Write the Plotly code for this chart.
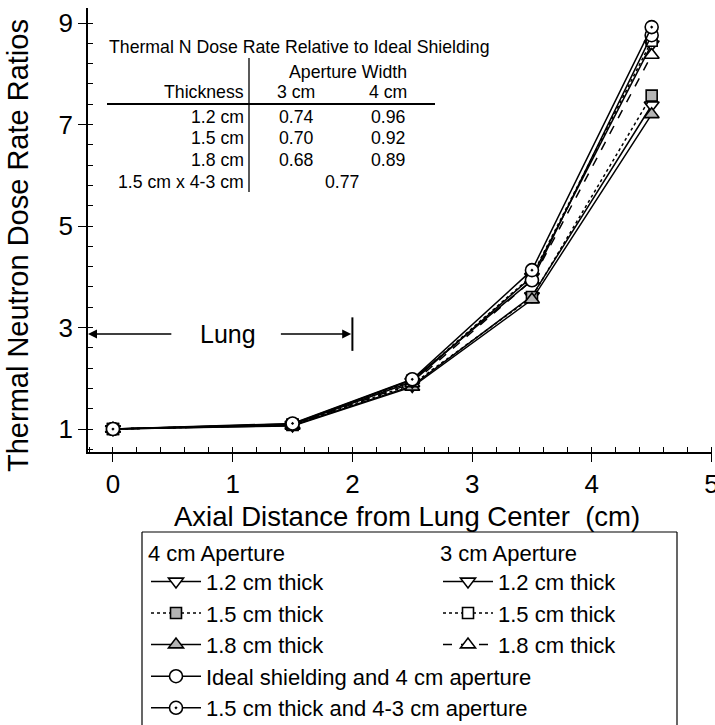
import plotly.graph_objects as go

# Axial positions (cm from lung center)
distance_cm = [0, 1.5, 2.5, 3.5, 4.5]

# Thermal neutron dose rate ratios (normalised to lung center)
ap4_t12 = [1.0, 1.07, 1.85, 3.62, 7.38]
ap4_t15 = [1.0, 1.08, 1.88, 3.60, 7.57]
ap4_t18 = [1.0, 1.06, 1.83, 3.55, 7.20]
ap3_t12 = [1.0, 1.09, 1.93, 4.00, 8.58]
ap3_t15 = [1.0, 1.09, 1.95, 4.02, 8.65]
ap3_t18 = [1.0, 1.08, 1.90, 3.93, 8.37]
ideal_ap4 = [1.0, 1.10, 1.97, 3.93, 8.76]
t15_ap43 = [1.0, 1.11, 1.98, 4.13, 8.92]

# Inset table: dose rate relative to ideal shielding
table_title = "Thermal N Dose Rate Relative to Ideal Shielding"
table_thickness = ["1.2 cm", "1.5 cm", "1.8 cm"]
table_ap3 = ["0.74", "0.70", "0.68"]
table_ap4 = ["0.96", "0.92", "0.89"]
table_combo_label = "1.5 cm x 4-3 cm"
table_combo_value = "0.77"

FONT = "Liberation Sans, Arial, sans-serif"
GRAY = "#b4b4b4"

# plot-area geometry in pixels (used to place inset text and boxes)
W, H = 715, 725
PL, PR, PT, PB = 88, 712, 8, 452
XR = [-0.2087, 5.004]
YR = [0.547, 9.296]


def px(xp):
    return (xp - PL) / (PR - PL)


def py(yp):
    return (PB - yp) / (PB - PT)


series = [
    # name, values, dash, symbol, fill, legend
    ("1.2 cm thick", ap4_t12, "solid", "triangle-down", "white", "legend"),
    ("1.5 cm thick", ap4_t15, "dot", "square", GRAY, "legend"),
    ("1.8 cm thick", ap4_t18, "solid", "triangle-up", GRAY, "legend"),
    ("1.2 cm thick", ap3_t12, "solid", "triangle-down", "white", "legend2"),
    ("1.5 cm thick", ap3_t15, "dot", "square", "white", "legend2"),
    ("1.8 cm thick", ap3_t18, "dash", "triangle-up", "white", "legend2"),
    ("Ideal shielding and 4 cm aperture", ideal_ap4, "solid", "circle", "white", "legend"),
    ("1.5 cm thick and 4-3 cm aperture", t15_ap43, "solid", "circle-dot", "white", "legend"),
]

fig = go.Figure()
for name, vals, dash, sym, fill, leg in series:
    size = 11 if sym == "square" else 13
    fig.add_trace(go.Scatter(
        x=distance_cm, y=vals, name=name, mode="lines+markers",
        line=dict(color="black", width=1.5, dash=dash),
        marker=dict(symbol=sym, size=size, color=fill,
                    line=dict(color="black", width=1.6)),
        legend=leg,
    ))

axis_common = dict(showgrid=False, zeroline=False, linecolor="black",
                   tickcolor="black", tickwidth=1.3, automargin=False)

LEG_FONT = 22
fig.update_layout(
    width=W, height=H,
    margin=dict(l=PL, r=W - PR, t=PT, b=H - PB, autoexpand=False),
    paper_bgcolor="white", plot_bgcolor="white",
    font=dict(family=FONT, color="black"),
    showlegend=True,
    xaxis=dict(range=XR, tickmode="linear", tick0=0, dtick=1,
               ticks="outside", ticklen=8, showline=True, linewidth=1.5,
               tickfont=dict(size=26), ticklabelstandoff=0,
               ticklabeloverflow="allow",
               minor=dict(ticks="inside", tick0=0, dtick=0.2, ticklen=5,
                          tickcolor="black", tickwidth=1.2),
               **axis_common),
    yaxis=dict(range=YR, tickmode="linear", tick0=1, dtick=2,
               ticks="outside", ticklen=8, showline=True, linewidth=1.5,
               tickfont=dict(size=26),
               minor=dict(ticks="inside", tick0=1, dtick=0.4, ticklen=5,
                          tickcolor="black", tickwidth=1.2),
               **axis_common),
    # mirrored frame with inward ticks (top / right)
    xaxis2=dict(range=XR, overlaying="x", anchor="y", side="top",
                tickmode="linear", tick0=0, dtick=1, ticks="inside", ticklen=6,
                showticklabels=False, showline=True, linewidth=1.5,
                minor=dict(ticks="inside", tick0=0, dtick=0.2, ticklen=5,
                           tickcolor="black", tickwidth=1.2),
                **axis_common),
    yaxis2=dict(range=YR, overlaying="y", anchor="x", side="right",
                tickmode="linear", tick0=1, dtick=2, ticks="inside", ticklen=6,
                showticklabels=False, showline=True, linewidth=1.5,
                minor=dict(ticks="inside", tick0=1, dtick=0.4, ticklen=5,
                           tickcolor="black", tickwidth=1.2),
                **axis_common),
    # inner half of the major ticks on bottom / left
    xaxis3=dict(range=XR, overlaying="x", anchor="y", side="bottom",
                tickmode="linear", tick0=0, dtick=1, ticks="inside", ticklen=7,
                showticklabels=False, showline=False, **axis_common),
    yaxis3=dict(range=YR, overlaying="y", anchor="x", side="left",
                tickmode="linear", tick0=1, dtick=2, ticks="inside", ticklen=7,
                showticklabels=False, showline=False, **axis_common),
    legend=dict(x=px(146), y=py(532), xanchor="left", yanchor="top",
                bgcolor="rgba(0,0,0,0)", font=dict(size=LEG_FONT), itemwidth=50,
                tracegroupgap=0,
                title=dict(text="4 cm Aperture", font=dict(size=LEG_FONT))),
    legend2=dict(x=px(438), y=py(532), xanchor="left", yanchor="top",
                 bgcolor="rgba(0,0,0,0)", font=dict(size=LEG_FONT), itemwidth=50,
                 tracegroupgap=0,
                 title=dict(text="3 cm Aperture", font=dict(size=LEG_FONT))),
)

shapes = []
annotations = []

# axis titles
annotations.append(dict(text="Axial Distance from Lung Center  (cm)",
                        x=px(407), y=py(516), xref="paper", yref="paper",
                        xanchor="center", yanchor="middle", showarrow=False,
                        font=dict(size=27.5)))
annotations.append(dict(text="Thermal Neutron Dose Rate Ratios",
                        x=px(18), y=py(246), xref="paper", yref="paper",
                        xanchor="center", yanchor="middle", showarrow=False,
                        textangle=-90, font=dict(size=29)))

# legend frame (open at the bottom edge of the page)
frame_line = dict(color="black", width=1.2)
shapes.append(dict(type="line", xref="paper", yref="paper",
                   x0=px(142), x1=px(677), y0=py(532), y1=py(532), line=frame_line))
shapes.append(dict(type="line", xref="paper", yref="paper",
                   x0=px(142), x1=px(142), y0=py(532), y1=py(725), line=frame_line))
shapes.append(dict(type="line", xref="paper", yref="paper",
                   x0=px(677), x1=px(677), y0=py(532), y1=py(725), line=frame_line))

# inset table
TF = 17.7
annotations.append(dict(text=table_title, x=px(107), y=py(47), xref="paper",
                        yref="paper", xanchor="left", yanchor="middle",
                        showarrow=False, font=dict(size=TF)))
annotations.append(dict(text="Aperture Width", x=px(348), y=py(72), xref="paper",
                        yref="paper", xanchor="center", yanchor="middle",
                        showarrow=False, font=dict(size=TF)))
annotations.append(dict(text="Thickness", x=px(246), y=py(92), xref="paper",
                        yref="paper", xanchor="right", yanchor="middle",
                        showarrow=False, font=dict(size=TF)))
annotations.append(dict(text="3 cm", x=px(296), y=py(92), xref="paper",
                        yref="paper", xanchor="center", yanchor="middle",
                        showarrow=False, font=dict(size=TF)))
annotations.append(dict(text="4 cm", x=px(388), y=py(92), xref="paper",
                        yref="paper", xanchor="center", yanchor="middle",
                        showarrow=False, font=dict(size=TF)))
row_y = [117, 138, 160]
for yy, th, v3, v4 in zip(row_y, table_thickness, table_ap3, table_ap4):
    annotations.append(dict(text=th, x=px(246), y=py(yy), xref="paper",
                            yref="paper", xanchor="right", yanchor="middle",
                            showarrow=False, font=dict(size=TF)))
    annotations.append(dict(text=v3, x=px(296), y=py(yy), xref="paper",
                            yref="paper", xanchor="center", yanchor="middle",
                            showarrow=False, font=dict(size=TF)))
    annotations.append(dict(text=v4, x=px(388), y=py(yy), xref="paper",
                            yref="paper", xanchor="center", yanchor="middle",
                            showarrow=False, font=dict(size=TF)))
annotations.append(dict(text=table_combo_label, x=px(246), y=py(182), xref="paper",
                        yref="paper", xanchor="right", yanchor="middle",
                        showarrow=False, font=dict(size=TF)))
annotations.append(dict(text=table_combo_value, x=px(342), y=py(182), xref="paper",
                        yref="paper", xanchor="center", yanchor="middle",
                        showarrow=False, font=dict(size=TF)))
shapes.append(dict(type="line", xref="paper", yref="paper",
                   x0=px(107), x1=px(435), y0=py(104), y1=py(104),
                   line=dict(color="black", width=2)))
shapes.append(dict(type="line", xref="paper", yref="paper",
                   x0=px(249), x1=px(249), y0=py(58), y1=py(192),
                   line=dict(color="black", width=1.3)))

# lung extent marker
lung_y = 2.87
annotations.append(dict(text="Lung", x=0.96, y=lung_y, xref="x", yref="y",
                        showarrow=False, font=dict(size=25)))
annotations.append(dict(text="", x=XR[0], y=lung_y, ax=0.5, ay=lung_y,
                        xref="x", yref="y", axref="x", ayref="y",
                        showarrow=True, arrowhead=2, arrowsize=1.2,
                        arrowwidth=1.5, arrowcolor="black"))
annotations.append(dict(text="", x=1.99, y=lung_y, ax=1.39, ay=lung_y,
                        xref="x", yref="y", axref="x", ayref="y",
                        showarrow=True, arrowhead=2, arrowsize=1.2,
                        arrowwidth=1.5, arrowcolor="black"))
shapes.append(dict(type="line", xref="x", yref="y", x0=2.0, x1=2.0,
                   y0=2.54, y1=3.2, line=dict(color="black", width=2)))

fig.update_layout(shapes=shapes, annotations=annotations)
fig.write_html("out.html")
